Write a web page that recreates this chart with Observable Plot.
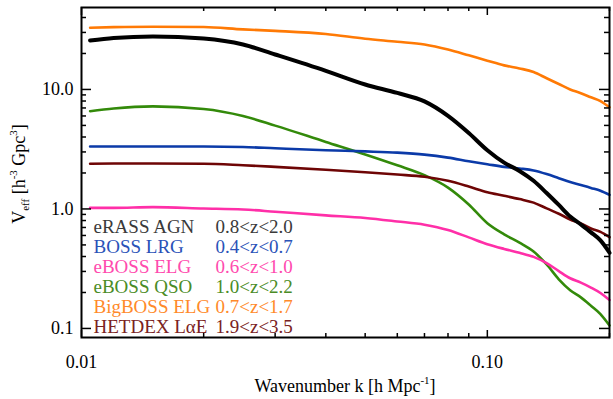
<!DOCTYPE html>
<html><head><meta charset="utf-8">
<script src="https://cdn.jsdelivr.net/npm/d3@7"></script>
<script src="https://cdn.jsdelivr.net/npm/@observablehq/plot@0.6"></script>
<style>body{margin:0;background:#fff} svg{display:block}</style>
</head><body><div id="chart"></div>
<script>
// Wavenumber samples k [h/Mpc]
const k = [0.0105, 0.012, 0.015, 0.02, 0.025, 0.03, 0.04, 0.05, 0.06, 0.07, 0.08, 0.09, 0.1, 0.11, 0.12, 0.13, 0.14, 0.15, 0.16, 0.17, 0.18, 0.19, 0.2];
// Veff [h^-3 Gpc^3] per survey
const eRASS_AGN   = [25.7, 27.0, 27.8, 26.7, 23.8, 19.6, 14.3, 11.0, 9.35, 7.94, 6.01, 4.32, 3.1, 2.44, 2.08, 1.72, 1.36, 1.08, 0.865, 0.741, 0.637, 0.545, 0.43];
const BOSS_LRG    = [3.33, 3.33, 3.33, 3.33, 3.30, 3.22, 3.10, 3.03, 2.96, 2.85, 2.69, 2.51, 2.37, 2.25, 2.18, 2.10, 1.96, 1.81, 1.68, 1.59, 1.50, 1.42, 1.31];
const eBOSS_ELG   = [1.02, 1.02, 1.035, 1.01, 0.99, 0.948, 0.884, 0.841, 0.786, 0.738, 0.666, 0.578, 0.507, 0.463, 0.430, 0.397, 0.352, 0.302, 0.263, 0.242, 0.220, 0.198, 0.173];
const eBOSS_QSO   = [6.58, 6.93, 7.21, 6.87, 6.0, 4.98, 3.64, 2.86, 2.32, 1.92, 1.51, 1.09, 0.759, 0.613, 0.522, 0.44, 0.343, 0.258, 0.209, 0.182, 0.155, 0.132, 0.106];
const BigBOSS_ELG = [32.8, 33.2, 33.5, 33.3, 31.8, 30.9, 29.1, 26.6, 25.1, 23.8, 21.6, 19.3, 17.4, 15.9, 15.0, 14.0, 12.4, 11.1, 10.0, 9.3, 8.6, 8.0, 7.1];
const HETDEX_LAE  = [2.39, 2.40, 2.40, 2.39, 2.32, 2.25, 2.13, 2.03, 1.94, 1.86, 1.72, 1.54, 1.38, 1.29, 1.21, 1.13, 1.01, 0.912, 0.817, 0.757, 0.687, 0.642, 0.58];

const seriesNames = ["eRASS AGN", "BOSS LRG", "eBOSS ELG", "eBOSS QSO", "BigBOSS ELG", "HETDEX L\u03B1E"];
const zRanges = ["0.8<z<2.0", "0.4<z<0.7", "0.6<z<1.0", "1.0<z<2.2", "0.7<z<1.7", "1.9<z<3.5"];
const seriesValues = [eRASS_AGN, BOSS_LRG, eBOSS_ELG, eBOSS_QSO, BigBOSS_ELG, HETDEX_LAE];
const lineColors = ["#000000", "#0b3aa8", "#ff2fa8", "#338a0a", "#ff7a05", "#6e0505"];
const textColors = ["#3a3a3a", "#2a52b8", "#ff4aae", "#4a8c26", "#ff8a2a", "#7a2222"];

const yMajor = [0.1, 1, 10];
const yMajorLabels = ["0.1", "1.0", "10.0"];
const yMinor = [0.2,0.3,0.4,0.5,0.6,0.7,0.8,0.9,2,3,4,5,6,7,8,9,20,30,40];
const xMajor = [0.01, 0.1];
const xMajorLabels = ["0.01", "0.10"];
const xMinor = [0.02,0.03,0.04,0.05,0.06,0.07,0.08,0.09,0.2];

const rows = seriesValues.flatMap((vals, s) => vals.map((v, i) => ({s, k: k[i], v})));

const W = 613, H = 399, mL = 81, mR = 4, mT = 7, mB = 62;
const pw = W - mL - mR, ph = H - mT - mB;
const FONT = "'Liberation Serif', 'Times New Roman', serif";
const drawOrder = [4, 3, 1, 5, 2, 0];

const plot = Plot.plot({
  width: W, height: H,
  marginLeft: mL, marginRight: mR, marginTop: mT, marginBottom: mB,
  style: {fontFamily: FONT, fontSize: "18px", background: "#fff", color: "#000"},
  x: {type: "log", domain: [0.01, 0.2]},
  y: {type: "log", domain: [0.084, 48.5]},
  marks: [
    ...drawOrder.map(s => Plot.line(rows.filter(r => r.s === s), {
      x: "k", y: "v", stroke: lineColors[s], strokeWidth: s === 0 ? 4 : 2.6, curve: "monotone-x"
    })),
    // y ticks (inward, left and right)
    Plot.tickY(yMajor, {y: d => d, insetRight: pw - 10, strokeWidth: 1.5}),
    Plot.tickY(yMinor, {y: d => d, insetRight: pw - 5, strokeWidth: 1.5}),
    Plot.tickY(yMajor, {y: d => d, insetLeft: pw - 10, strokeWidth: 1.5}),
    Plot.tickY(yMinor, {y: d => d, insetLeft: pw - 5, strokeWidth: 1.5}),
    // x ticks (inward, bottom and top)
    Plot.tickX(xMajor, {x: d => d, insetTop: ph - 7, strokeWidth: 1.5}),
    Plot.tickX(xMinor, {x: d => d, insetTop: ph - 4, strokeWidth: 1.5}),
    Plot.tickX(xMajor, {x: d => d, insetBottom: ph - 8, strokeWidth: 1.5}),
    Plot.tickX(xMinor, {x: d => d, insetBottom: ph - 4, strokeWidth: 1.5}),
    Plot.axisY({anchor: "left", ticks: yMajor, tickFormat: d => yMajorLabels[yMajor.indexOf(d)], tickSize: 0, tickPadding: 8, label: null, fontSize: 18, fontFamily: FONT}),
    Plot.axisX({anchor: "bottom", ticks: xMajor, tickFormat: d => xMajorLabels[xMajor.indexOf(d)], tickSize: 0, tickPadding: 18, label: null, fontSize: 18, fontFamily: FONT}),
    Plot.frame({strokeWidth: 2}),
    ...seriesNames.map((name, i) => Plot.text([name], {
      text: d => d, frameAnchor: "bottom-left", dx: 12, dy: -(105 - 20 * i),
      lineAnchor: "bottom", textAnchor: "start", fill: textColors[i], fontSize: 19, fontFamily: FONT
    })),
    ...zRanges.map((z, i) => Plot.text([z], {
      text: d => d, frameAnchor: "bottom-left", dx: 134, dy: -(105 - 20 * i),
      lineAnchor: "bottom", textAnchor: "start", fill: textColors[i], fontSize: 19, fontFamily: FONT
    }))
  ]
});

const svg = d3.select(plot);
const yl = svg.append("text")
  .attr("transform", "translate(25,174) rotate(-90)")
  .attr("text-anchor", "middle")
  .style("font-family", FONT).style("font-size", "18px").attr("fill", "#000");
yl.append("tspan").text("V");
yl.append("tspan").attr("dy", 4).style("font-size", "11px").text("eff");
yl.append("tspan").attr("dy", -4).text(" [h");
yl.append("tspan").attr("dy", -8).style("font-size", "11px").text("-3");
yl.append("tspan").attr("dy", 8).text(" Gpc");
yl.append("tspan").attr("dy", -8).style("font-size", "11px").text("3");
yl.append("tspan").attr("dy", 8).text("]");

const xl = svg.append("text")
  .attr("x", mL + pw / 2).attr("y", 392)
  .attr("text-anchor", "middle")
  .style("font-family", FONT).style("font-size", "18px").attr("fill", "#000");
xl.append("tspan").text("Wavenumber k [h Mpc");
xl.append("tspan").attr("dy", -8).style("font-size", "11px").text("-1");
xl.append("tspan").attr("dy", 8).text("]");

document.getElementById("chart").appendChild(plot);
</script>
</body></html>
